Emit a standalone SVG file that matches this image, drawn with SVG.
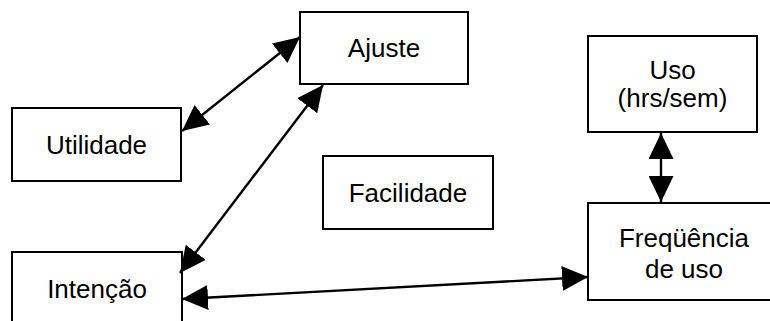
<svg xmlns="http://www.w3.org/2000/svg" width="770" height="321" viewBox="0 0 770 321">
  <style>
    .box { fill: #fff; stroke: #000; stroke-width: 2; }
    .lbl { font-family: "Liberation Sans", Arial, sans-serif; font-size: 26px; fill: #000; text-anchor: middle; }
    .link { stroke: #000; stroke-width: 2.4; fill: none; marker-start: url(#head); marker-end: url(#head); }
  </style>
  <defs>
    <marker id="head" markerUnits="userSpaceOnUse" markerWidth="26" markerHeight="25" viewBox="0 0 26 25" refX="26" refY="12.5" orient="auto-start-reverse">
      <path d="M0,0 L26,12.5 L0,25 Z" fill="#000"/>
    </marker>
  </defs>

  <rect width="770" height="321" fill="#fff"/>

  <g id="ajuste">
    <rect class="box" x="300" y="12" width="168" height="72"/>
    <text class="lbl" x="384" y="57">Ajuste</text>
  </g>
  <g id="utilidade">
    <rect class="box" x="12" y="108" width="169" height="73"/>
    <text class="lbl" x="96.5" y="154">Utilidade</text>
  </g>
  <g id="facilidade">
    <rect class="box" x="323" y="156" width="170" height="73"/>
    <text class="lbl" x="408" y="202">Facilidade</text>
  </g>
  <g id="intencao">
    <rect class="box" x="12" y="252" width="170" height="80"/>
    <text class="lbl" x="97" y="298">Intenção</text>
  </g>
  <g id="uso">
    <rect class="box" x="588" y="36" width="169" height="96"/>
    <text class="lbl" x="672.5" y="79">Uso</text>
    <text class="lbl" x="672.5" y="107">(hrs/sem)</text>
  </g>
  <g id="frequencia">
    <rect class="box" x="588" y="203" width="192" height="97"/>
    <text class="lbl" x="684" y="247">Freqüência</text>
    <text class="lbl" x="684" y="278">de uso</text>
  </g>

  <g id="connectors">
    <line class="link" x1="182" y1="131" x2="300" y2="37"/>
    <line class="link" x1="180" y1="273" x2="323" y2="85"/>
    <line class="link" x1="182" y1="299" x2="588" y2="277"/>
    <line class="link" x1="661" y1="133" x2="661" y2="202"/>
  </g>
</svg>
